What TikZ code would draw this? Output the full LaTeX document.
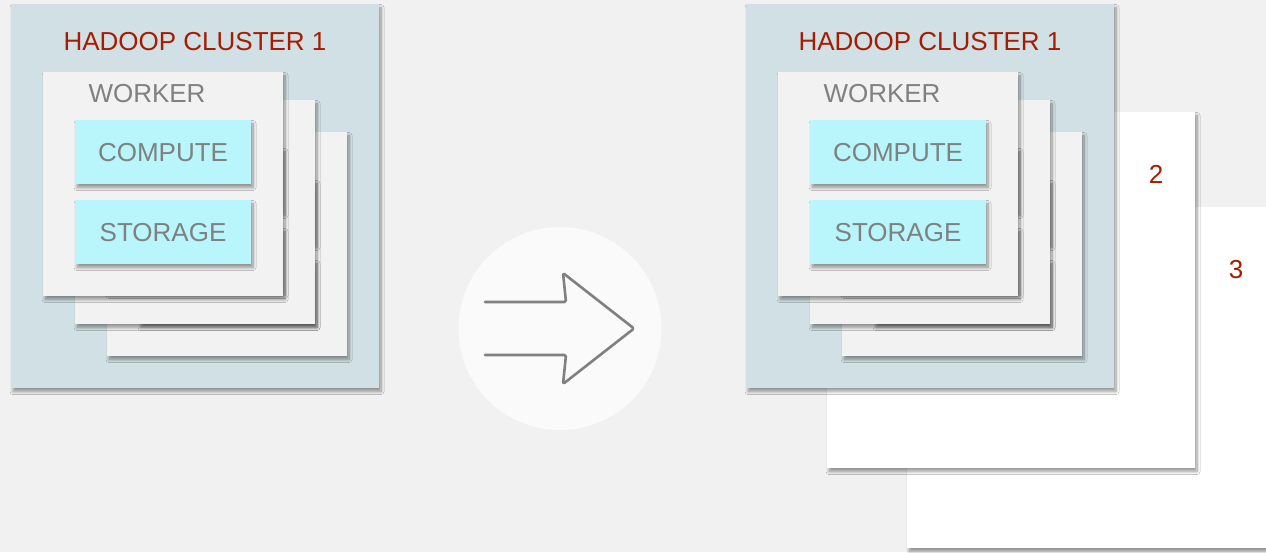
\documentclass[tikz,border=0pt]{standalone}
\usepackage{fontspec}
\setmainfont{Liberation Sans}
\usetikzlibrary{shadows.blur}
\definecolor{bgcol}{HTML}{F1F1F1}
\definecolor{cluscol}{HTML}{D1E0E4}
\definecolor{workcol}{HTML}{F2F2F2}
\definecolor{compcol}{HTML}{B8F6FC}
\definecolor{txtgray}{HTML}{808080}
\definecolor{titlered}{HTML}{A61C00}
\definecolor{circcol}{HTML}{FAFAFA}
\tikzset{
  sh/.style={blur shadow={shadow xshift=2pt, shadow yshift=-3.5pt, shadow blur radius=3pt, shadow blur steps=8, shadow opacity=40}},
  box/.style={sh, anchor=north west, inner sep=0pt, outer sep=0pt},
  clusterbox/.style={box, fill=cluscol, minimum width=368pt, minimum height=384pt},
  whitebox/.style={box, fill=white, minimum width=368pt, minimum height=356pt},
  workerbox/.style={box, fill=workcol, minimum width=240pt, minimum height=224pt},
  unitbox/.style={box, fill=compcol, minimum width=176pt, minimum height=64pt},
  bigtxt/.style={font=\fontsize{26}{30}\selectfont, inner sep=0pt, anchor=base},
  titletxt/.style={bigtxt, text=titlered},
  graytxt/.style={bigtxt, text=txtgray},
  arrowline/.style={draw=txtgray, line width=2.6pt, line join=round, line cap=round, rounded corners=1.5pt}
}
% #1 = name prefix, #2,#3 = top-left corner of the cluster
\newcommand\hadoopcluster[3]{%
  \node[clusterbox] (#1box) at (#2,#3) {};
  \node[titletxt] (#1title) at ({#2+184},{#3+46}) {HADOOP CLUSTER 1};
  % worker 3
  \node[workerbox] (#1wc) at ({#2+96},{#3+128}) {};
  \node[unitbox] (#1wcc) at ({#2+128},{#3+176}) {};
  \node[unitbox] (#1wcs) at ({#2+128},{#3+256}) {};
  % worker 2
  \node[workerbox] (#1wb) at ({#2+64},{#3+96}) {};
  \node[unitbox] (#1wbc) at ({#2+96},{#3+144}) {};
  \node[unitbox] (#1wbs) at ({#2+96},{#3+224}) {};
  % worker 1
  \node[workerbox] (#1wa) at ({#2+32},{#3+68}) {};
  \node[graytxt] (#1wlabel) at ({#2+136},{#3+98}) {WORKER};
  \node[unitbox] (#1comp) at ({#2+64},{#3+116}) {};
  \node[graytxt] (#1complabel) at ({#2+152},{#3+157}) {COMPUTE};
  \node[unitbox] (#1stor) at ({#2+64},{#3+196}) {};
  \node[graytxt] (#1storlabel) at ({#2+152},{#3+237}) {STORAGE};
}
\begin{document}
\begin{tikzpicture}[x=1pt,y=-1pt]
  \fill[bgcol] (0,0) rectangle (1266,552);
  \useasboundingbox (0,0) rectangle (1266,552);
  % left cluster
  \hadoopcluster{L}{11}{4}
  % middle circle with arrow
  \node[circle, fill=circcol, minimum size=203pt, inner sep=0pt] (circ) at (560,328.5) {};
  \draw[arrowline] (485,302) -- (566,302) -- (563,273) -- (634,328.5) -- (563,384) -- (566,355) -- (485,355);
  % right side: clusters 3 and 2 behind cluster 1
  \node[whitebox, minimum width=362pt, minimum height=341pt] (c3) at (907,207) {};
  \node[titletxt] (c3label) at (1236,278) {3};
  \node[whitebox] (c2) at (827,112) {};
  \node[titletxt] (c2label) at (1156,183) {2};
  \hadoopcluster{R}{746}{4}
\end{tikzpicture}
\end{document}
